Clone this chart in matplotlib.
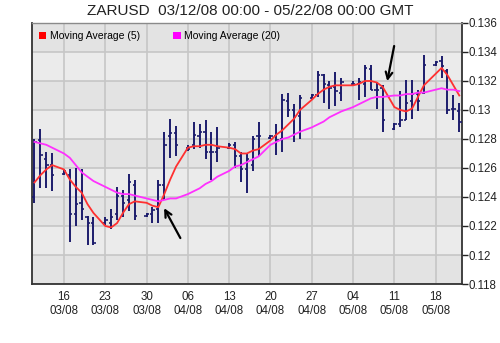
import matplotlib
matplotlib.use('Agg')
import matplotlib.pyplot as plt
import matplotlib.dates as mdates
from matplotlib.patches import Patch
from matplotlib.ticker import FuncFormatter, MultipleLocator
import numpy as np
import pandas as pd

plt.rcParams['font.family'] = ['Liberation Sans', 'DejaVu Sans']

# DATA (daily bars, Sunday-Friday)
dates = ['2008-03-11', '2008-03-12', '2008-03-13', '2008-03-14',
         '2008-03-16', '2008-03-17', '2008-03-18', '2008-03-19', '2008-03-20', '2008-03-21',
         '2008-03-23', '2008-03-24', '2008-03-25', '2008-03-26', '2008-03-27', '2008-03-28',
         '2008-03-30', '2008-03-31', '2008-04-01', '2008-04-02', '2008-04-03', '2008-04-04',
         '2008-04-06', '2008-04-07', '2008-04-08', '2008-04-09', '2008-04-10', '2008-04-11',
         '2008-04-13', '2008-04-14', '2008-04-15', '2008-04-16', '2008-04-17', '2008-04-18',
         '2008-04-20', '2008-04-21', '2008-04-22', '2008-04-23', '2008-04-24', '2008-04-25',
         '2008-04-27', '2008-04-28', '2008-04-29', '2008-04-30', '2008-05-01', '2008-05-02',
         '2008-05-04', '2008-05-05', '2008-05-06', '2008-05-07', '2008-05-08', '2008-05-09',
         '2008-05-11', '2008-05-12', '2008-05-13', '2008-05-14', '2008-05-15', '2008-05-16',
         '2008-05-18', '2008-05-19', '2008-05-20', '2008-05-21', '2008-05-22']

opens = [.1240, .1279, .1266, .1262,
         .1256, .1255, .1228, .1236, .1226, .1222,
         .1222, .1222, .1228, .1241, .1238, .1248,
         .1227, .1228, .1232, .1248, .1282, .1284,
         .1274, .1276, .1282, .1285, .1271, .1271,
         .1274, .1276, .1268, .1259, .1262, .1282,
         .1281, .1282, .1280, .1306, .1300, .1296,
         .1308, .1310, .1324, .1317, .1316, .1312,
         .1318, .1318, .1318, .1328, .1314, .1315,
         .1287, .1290, .1293, .1306, .1311, .1312,
         .1331, .1334, .1327, .1301, .1299]
highs = [.1280, .1287, .1271, .1270,
         .1259, .1259, .1260, .1259, .1227, .1226,
         .1226, .1232, .1247, .1245, .1256, .1252,
         .1229, .1233, .1252, .1285, .1294, .1289,
         .1276, .1292, .1290, .1293, .1285, .1288,
         .1277, .1278, .1271, .1270, .1282, .1292,
         .1283, .1290, .1311, .1312, .1304, .1310,
         .1311, .1327, .1325, .1320, .1326, .1322,
         .1320, .1322, .1331, .1331, .1319, .1317,
         .1291, .1313, .1321, .1321, .1314, .1338,
         .1334, .1337, .1328, .1310, .1305]
lows = [.1236, .1246, .1246, .1244,
        .1255, .1209, .1220, .1224, .1207, .1207,
        .1221, .1218, .1224, .1226, .1230, .1224,
        .1226, .1222, .1222, .1238, .1267, .1268,
        .1272, .1273, .1274, .1266, .1252, .1264,
        .1273, .1260, .1250, .1243, .1258, .1268,
        .1280, .1269, .1271, .1295, .1278, .1280,
        .1307, .1309, .1305, .1301, .1303, .1306,
        .1317, .1307, .1309, .1314, .1301, .1285,
        .1286, .1288, .1293, .1294, .1299, .1311,
        .1330, .1322, .1297, .1293, .1285]
closes = [.1278, .1269, .1262, .1255,
          .1258, .1228, .1235, .1232, .1222, .1208,
          .1224, .1226, .1241, .1236, .1250, .1227,
          .1228, .1231, .1248, .1276, .1284, .1276,
          .1273, .1283, .1285, .1271, .1271, .1274,
          .1276, .1268, .1259, .1266, .1280, .1282,
          .1282, .1279, .1307, .1300, .1295, .1308,
          .1310, .1324, .1318, .1315, .1313, .1319,
          .1318, .1319, .1329, .1314, .1314, .1293,
          .1290, .1293, .1305, .1311, .1306, .1331,
          .1333, .1330, .1300, .1301, .1292]

ma5 = [.1250, .1255, .1259, .1262,
       .1259, .1252, .1247, .1243, .1235, .1229,
       .1220, .1219, .1222, .1229, .1235, .1237,
       .1236, .1234, .1233, .1242, .1252, .1261,
       .1274, .1275, .1275, .1276, .1276, .1275,
       .1274, .1273, .1270, .1270, .1272, .1273,
       .1279, .1283, .1286, .1290, .1294, .1300,
       .1307, .1311, .1314, .1316, .1317, .1317,
       .1317, .1318, .1320, .1320, .1319, .1316,
       .1302, .1300, .1299, .1301, .1309, .1317,
       .1325, .1329, .1324, .1317, .1310]
ma20 = [.1278, .1277, .1276, .1274,
        .1270, .1267, .1262, .1257, .1254, .1251,
        .1247, .1245, .1243, .1242, .1242, .1241,
        .1239, .1238, .1237, .1238, .1239, .1239,
        .1242, .1244, .1246, .1249, .1251, .1254,
        .1258, .1261, .1262, .1264, .1266, .1268,
        .1276, .1278, .1280, .1281, .1283, .1285,
        .1288, .1290, .1292, .1295, .1297, .1299,
        .1302, .1304, .1306, .1308, .1309, .1309,
        .1310, .1310, .1311, .1311, .1312, .1312,
        .1314, .1315, .1314, .1314, .1313]

x = mdates.date2num(pd.to_datetime(dates))

fig = plt.figure(figsize=(5, 3.43), dpi=100)
ax = fig.add_axes([0.064, 0.172, 0.86, 0.761])

# alternating background bands
bands = np.arange(0.118, 0.136, 0.002)
for i, b in enumerate(bands):
    ax.axhspan(b, b + 0.002, color='#e3e3e3' if i % 2 == 0 else '#ebebeb', zorder=0, lw=0)

ax.set_ylim(0.118, 0.136)
ax.set_xlim(mdates.date2num(pd.Timestamp('2008-03-10 14:00')),
            mdates.date2num(pd.Timestamp('2008-05-22 11:00')))

ax.grid(True, color='#c6c6c6', lw=1.2, zorder=1)

# OHLC bars
bar_col = '#1c1c6c'
tw = 0.38
ax.vlines(x, lows, highs, color=bar_col, lw=1.4, zorder=3)
ax.hlines(opens, x - tw, x, color=bar_col, lw=1.2, zorder=3)
ax.hlines(closes, x, x + tw, color=bar_col, lw=1.2, zorder=3)

ax.plot(x, ma5, color='#ff3030', lw=1.3, zorder=4)
ax.plot(x, ma20, color='#ff30ff', lw=1.3, zorder=4)

# arrows
d0 = mdates.date2num(pd.Timestamp('2008-04-01'))
ax.annotate('', xy=(d0 + 0.75, 0.1234), xytext=(d0 + 3.95, 0.1210),
            arrowprops=dict(arrowstyle='->', color='black', lw=1.6, mutation_scale=12), zorder=5)
d1 = mdates.date2num(pd.Timestamp('2008-05-09'))
ax.annotate('', xy=(d1 + 0.7, 0.1318), xytext=(d1 + 2.05, 0.1346),
            arrowprops=dict(arrowstyle='->', color='black', lw=1.6, mutation_scale=12), zorder=5)

# axes styling
ax.yaxis.tick_right()
ax.yaxis.set_major_locator(MultipleLocator(0.002))
ax.yaxis.set_major_formatter(FuncFormatter(lambda v, p: f'{v:.3f}'.rstrip('0')))
ax.xaxis.set_major_locator(mdates.WeekdayLocator(byweekday=mdates.SU))
ax.xaxis.set_major_formatter(mdates.DateFormatter('%d\n%m/%y'))
ax.tick_params(axis='y', direction='out', length=4, width=1, labelsize=8.3, pad=1, colors='#222222')
ax.tick_params(axis='x', length=0, labelsize=8.3, pad=5, colors='#222222')
for lbl in ax.get_xticklabels():
    lbl.set_linespacing(1.25)

for s in ['left', 'bottom', 'right']:
    ax.spines[s].set_color('#333333')
    ax.spines[s].set_linewidth(1.3)
ax.spines['top'].set_color('#8a8a8a')
ax.spines['top'].set_linewidth(1)

handles = [Patch(facecolor='#ff0000', edgecolor='none', label='Moving Average (5)'),
           Patch(facecolor='#ff00ff', edgecolor='none', label='Moving Average (20)')]
ax.legend(handles=handles, loc='upper left', bbox_to_anchor=(-0.002, 1.0), ncol=2, frameon=False,
          fontsize=7.5, handlelength=0.7, handleheight=0.7, handletextpad=0.35, columnspacing=3.2,
          borderaxespad=0.35)

fig.text(0.5, 1 - 11 / 343, 'ZARUSD  03/12/08 00:00 - 05/22/08 00:00 GMT', ha='center', va='center',
         fontsize=11, color='#222222')

fig.savefig('out.png', dpi=100, facecolor='white')
plt.close(fig)
